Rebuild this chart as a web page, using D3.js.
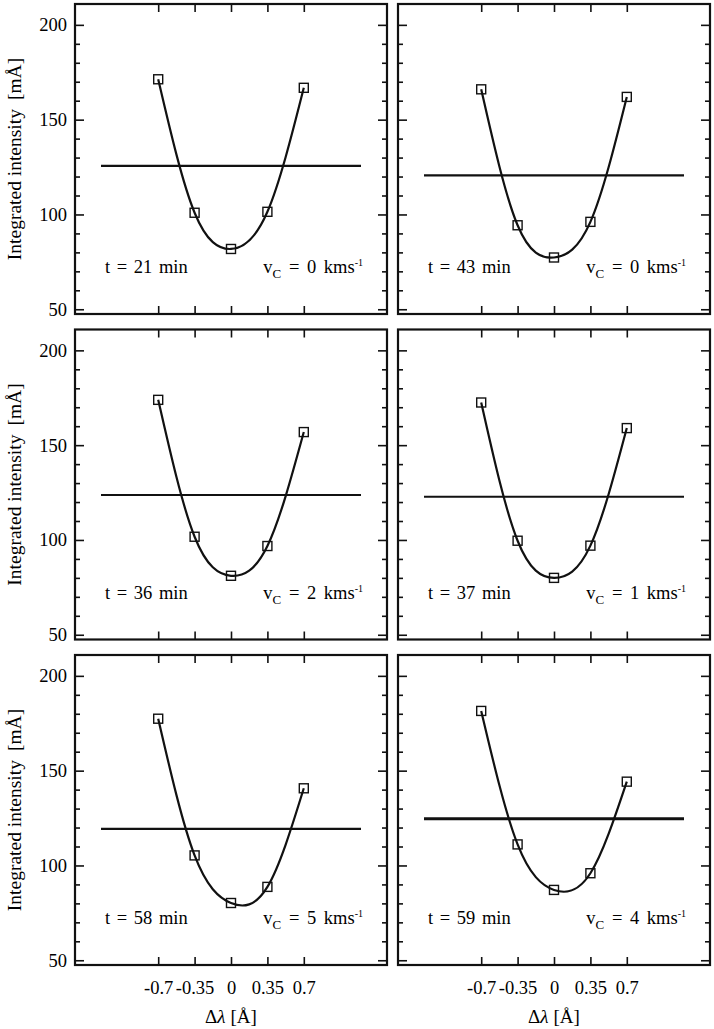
<!DOCTYPE html>
<html>
<head>
<meta charset="utf-8">
<script src="https://cdn.jsdelivr.net/npm/d3@7"></script>
<style>
  html, body { margin: 0; padding: 0; background: #fff; }
  svg text { font-family: "Liberation Serif", "DejaVu Serif", serif !important; fill: #000; }
</style>
</head>
<body>
<svg id="chart" width="714" height="1029"></svg>
<script>
// ---- data ----
const deltaLambda = [-0.7, -0.35, 0, 0.35, 0.7];
const xTickLabels = ["-0.7", "-0.35", "0", "0.35", "0.7"];
const yMajorTicks = [50, 100, 150, 200];
const yMinorTicks = [60, 70, 80, 90, 110, 120, 130, 140, 160, 170, 180, 190];

const timesMin = [21, 43, 36, 37, 58, 59];
const vcKms    = [0, 0, 2, 1, 5, 4];

const intensity21 = [171.3, 100.9, 81.8, 101.4, 166.8];
const intensity43 = [166.0, 94.3, 77.3, 96.1, 162.0];
const intensity36 = [173.9, 101.7, 81.1, 96.8, 156.9];
const intensity37 = [172.5, 99.6, 80.0, 97.0, 159.0];
const intensity58 = [177.4, 105.3, 80.2, 88.7, 140.7];
const intensity59 = [181.5, 111.1, 87.1, 95.9, 144.2];
const intensities = [intensity21, intensity43, intensity36, intensity37, intensity58, intensity59];

const referenceLevel = [125.6, 120.6, 123.7, 122.8, 119.3, 124.6];
const referenceSpan = [-1.25, 1.25];

// ---- layout ----
const FONT = "Liberation Serif";
const svg = d3.select("#chart");
const panelW = 312, panelH = 310;
const colLeft = [75, 398];
const rowTop = [4, 329.5, 655];

const x = d3.scaleLinear().domain([-1.5, 1.5]).range([0, panelW]);
const y = d3.scaleLinear().domain([47.5, 211]).range([panelH, 0]);

const line = d3.line().x(d => x(d[0])).y(d => y(d[1])).curve(d3.curveNatural);

intensities.forEach((vals, i) => {
  const row = Math.floor(i / 2), col = i % 2;
  const g = svg.append("g").attr("transform", `translate(${colLeft[col]},${rowTop[row]})`)
    .attr("font-family", FONT);

  // axes (ticks inward)
  const styleAxis = sel => {
    sel.attr("font-family", FONT).attr("font-size", 18);
    sel.select(".domain").remove();
    sel.selectAll("line").attr("stroke", "#111").attr("stroke-width", 1.6);
    sel.selectAll("text").attr("font-family", FONT).style("font-family", FONT)
      .style("font-size", "18.5px").attr("fill", "#000");
  };
  g.append("g").call(d3.axisLeft(y).tickValues(yMajorTicks).tickSizeInner(-9).tickSizeOuter(0)
      .tickPadding(8).tickFormat(col === 0 ? d3.format("d") : () => ""))
    .call(styleAxis);
  g.append("g").call(d3.axisLeft(y).tickValues(yMinorTicks).tickSizeInner(-5).tickSizeOuter(0).tickFormat(() => ""))
    .call(styleAxis);
  g.append("g").attr("transform", `translate(${panelW},0)`)
    .call(d3.axisRight(y).tickValues(yMajorTicks).tickSizeInner(-9).tickSizeOuter(0).tickFormat(() => ""))
    .call(styleAxis);
  g.append("g").attr("transform", `translate(${panelW},0)`)
    .call(d3.axisRight(y).tickValues(yMinorTicks).tickSizeInner(-5).tickSizeOuter(0).tickFormat(() => ""))
    .call(styleAxis);
  g.append("g")
    .call(d3.axisTop(x).tickValues(deltaLambda).tickSizeInner(-8).tickSizeOuter(0).tickFormat(() => ""))
    .call(styleAxis);
  g.append("g").attr("transform", `translate(0,${panelH})`)
    .call(d3.axisBottom(x).tickValues(deltaLambda).tickSizeInner(-8).tickSizeOuter(0).tickPadding(16)
      .tickFormat((d, k) => row === 2 ? xTickLabels[k] : ""))
    .call(styleAxis);

  // frame
  g.append("rect").attr("x", 0).attr("y", 0).attr("width", panelW).attr("height", panelH)
    .attr("fill", "none").attr("stroke", "#111").attr("stroke-width", 2.2);

  // reference level
  g.append("line")
    .attr("x1", x(referenceSpan[0])).attr("x2", x(referenceSpan[1]))
    .attr("y1", y(referenceLevel[i])).attr("y2", y(referenceLevel[i]))
    .attr("stroke", "#111").attr("stroke-width", i === 5 ? 3 : 2.2);

  // fit curve
  const pts = deltaLambda.map((d, k) => [d, vals[k]]);
  g.append("path").attr("d", line(pts)).attr("fill", "none")
    .attr("stroke", "#111").attr("stroke-width", 2.2);

  // square markers
  g.selectAll("rect.pt").data(pts).enter().append("rect").attr("class", "pt")
    .attr("x", d => x(d[0]) - 4.5).attr("y", d => y(d[1]) - 4.5)
    .attr("width", 9).attr("height", 9)
    .attr("fill", "none").attr("stroke", "#111").attr("stroke-width", 1.4);

  // annotations
  g.append("text").attr("x", 30).attr("y", 269)
    .style("font-family", FONT).style("font-size", "18.5px").style("word-spacing", "2px")
    .text(`t = ${timesMin[i]} min`);
  const vt = g.append("text").attr("x", panelW - 24).attr("y", 269)
    .attr("text-anchor", "end").style("font-family", FONT)
    .style("font-size", "18.5px").style("word-spacing", "3px");
  vt.append("tspan").text("v");
  vt.append("tspan").attr("dy", 5).style("font-size", "13px").text("C");
  vt.append("tspan").attr("dy", -5).text(` = ${vcKms[i]} kms`);
  vt.append("tspan").attr("dy", -7).style("font-size", "10px").text("-1");

  // y-axis title
  if (col === 0) {
    const yt = svg.append("text")
      .attr("transform", `translate(21,${rowTop[row] + panelH / 2}) rotate(-90)`)
      .attr("text-anchor", "middle").style("font-family", FONT).style("font-size", "19.5px");
    yt.append("tspan").text("Integrated intensity");
    yt.append("tspan").attr("dx", 9).text("[mÅ]");
  }
  // x-axis title
  if (row === 2) {
    const xt = svg.append("text")
      .attr("x", colLeft[col] + x(0)).attr("y", 1023)
      .attr("text-anchor", "middle").style("font-family", FONT).style("font-size", "19px");
    xt.append("tspan").text("Δ");
    xt.append("tspan").style("font-style", "italic").text("λ");
    xt.append("tspan").attr("dx", 5).text("[Å]");
  }
});
</script>
</body>
</html>
